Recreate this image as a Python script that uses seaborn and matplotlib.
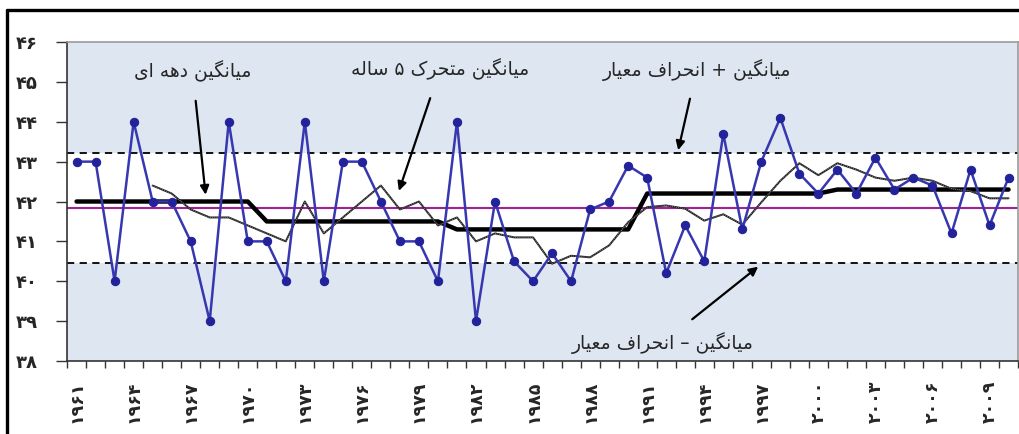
import numpy as np
import pandas as pd
import seaborn as sns
import matplotlib
matplotlib.use("Agg")
import matplotlib.pyplot as plt
from matplotlib.lines import Line2D

# values
years = list(range(1961, 2011))
values = [43, 43, 40, 44, 42, 42, 41, 39, 44, 41,
          41, 40, 44, 40, 43, 43, 42, 41, 41, 40,
          44, 39, 42, 40.5, 40, 40.7, 40, 41.8, 42, 42.9,
          42.6, 40.2, 41.4, 40.5, 43.7, 41.3, 43, 44.1, 42.7, 42.2,
          42.8, 42.2, 43.1, 42.3, 42.6, 42.4, 41.2, 42.8, 41.4, 42.6]
decade_means = [42.0, 41.5, 41.3, 42.2, 42.3]
ma_years = list(range(1965, 2011))
moving_avg = [42.4, 42.2, 41.8, 41.6, 41.6, 41.4,
              41.2, 41.0, 42.0, 41.2, 41.6, 42.0, 42.4, 41.8, 42.0, 41.4,
              41.6, 41.0, 41.2, 41.1, 41.1, 40.44, 40.64, 40.6, 40.9, 41.48,
              41.86, 41.9, 41.82, 41.52, 41.68, 41.42, 41.98, 42.52, 42.96, 42.66,
              42.96, 42.8, 42.6, 42.52, 42.6, 42.52, 42.32, 42.26, 42.08, 42.08]
mean_all = 41.84
upper = 43.22
lower = 40.46
label_years = list(range(1961, 2011, 3))
y_ticks = [38, 39, 40, 41, 42, 43, 44, 45, 46]

lbl_decade = "میانگین دهه ای"
lbl_ma = "میانگین متحرک ۵ ساله"
lbl_up = "میانگین + انحراف معیار"
lbl_down = "میانگین – انحراف معیار"

# contextual forms (isolated, final, initial, medial) -- matplotlib has no arabic shaping
FORMS = {
    'ا': ('\uFE8D', '\uFE8E', None, None),
    'د': ('\uFEA9', '\uFEAA', None, None),
    'ر': ('\uFEAD', '\uFEAE', None, None),
    'و': ('\uFEED', '\uFEEE', None, None),
    'ت': ('\uFE95', '\uFE96', '\uFE97', '\uFE98'),
    'ح': ('\uFEA1', '\uFEA2', '\uFEA3', '\uFEA4'),
    'س': ('\uFEB1', '\uFEB2', '\uFEB3', '\uFEB4'),
    'ع': ('\uFEC9', '\uFECA', '\uFECB', '\uFECC'),
    'ف': ('\uFED1', '\uFED2', '\uFED3', '\uFED4'),
    'ل': ('\uFEDD', '\uFEDE', '\uFEDF', '\uFEE0'),
    'م': ('\uFEE1', '\uFEE2', '\uFEE3', '\uFEE4'),
    'ن': ('\uFEE5', '\uFEE6', '\uFEE7', '\uFEE8'),
    'ه': ('\uFEE9', '\uFEEA', '\uFEEB', '\uFEEC'),
    'ی': ('\uFBFC', '\uFBFD', '\uFBFE', '\uFBFF'),
    'ک': ('\uFB8E', '\uFB8F', '\uFB90', '\uFB91'),
    'گ': ('\uFB92', '\uFB93', '\uFB94', '\uFB95'),
}


def fa(s):
    out = []
    for i, c in enumerate(s):
        if c not in FORMS:
            out.append(c)
            continue
        iso, fin, ini, med = FORMS[c]
        prev = s[i - 1] if i > 0 else ''
        nxt = s[i + 1] if i + 1 < len(s) else ''
        jp = prev in FORMS and FORMS[prev][2] is not None
        jn = ini is not None and nxt in FORMS
        if jp and jn:
            out.append(med)
        elif jp:
            out.append(fin)
        elif jn:
            out.append(ini)
        else:
            out.append(iso)
    return ''.join(reversed(out))


def fa_digits(n):
    return ''.join('۰۱۲۳۴۵۶۷۸۹'[int(d)] for d in str(n))


sns.set_theme(style="white")
plt.rcParams['font.family'] = ['DejaVu Sans']

df = pd.DataFrame({"year": years, "value": values,
                   "decade": np.repeat(decade_means, 10)})
ma = pd.DataFrame({"year": ma_years, "ma": moving_avg})

fig = plt.figure(figsize=(10.19, 4.34), dpi=100)
ax = fig.add_axes([0.0658, 0.1682, 0.9333, 0.735])

ax.axhspan(upper, 46, color="#dde6f1", lw=0, zorder=0)
ax.axhspan(38, lower, color="#dde6f1", lw=0, zorder=0)

ax.axhline(upper, color="black", ls=(0, (4, 3)), lw=1.3, zorder=2)
ax.axhline(lower, color="black", ls=(0, (4, 3)), lw=1.3, zorder=2)
ax.axhline(mean_all, color="#a0209a", lw=1.5, zorder=2)

sns.lineplot(data=df, x="year", y="decade", ax=ax, color="black", lw=3.2, zorder=3)
sns.lineplot(data=ma, x="year", y="ma", ax=ax, color="#222222", lw=1.4, zorder=3)
sns.lineplot(data=ma, x="year", y="ma", ax=ax, color="#bbbbbb", lw=0.5,
             ls=(0, (1, 2)), zorder=3)
sns.lineplot(data=df, x="year", y="value", ax=ax, color="#3737b0", lw=1.8,
             marker="o", markersize=6, markerfacecolor="#22229a",
             markeredgecolor="#22229a", zorder=4)

ax.set_xlim(1960.5, 2010.5)
ax.set_ylim(38, 46)
ax.set_xlabel("")
ax.set_ylabel("")

ax.set_xticks(np.arange(1960.5, 2011, 1))
ax.set_xticklabels([])
ax.set_xticks(label_years, minor=True)
ax.set_xticklabels([fa_digits(y) for y in label_years], minor=True,
                   rotation=90, fontsize=12.5, fontweight="bold")
ax.tick_params(axis="x", which="major", direction="out", length=5, width=1,
               color="#333333", bottom=True)
ax.tick_params(axis="x", which="minor", length=0, pad=14, bottom=True)

ax.set_yticks(y_ticks)
ax.set_yticklabels([fa_digits(v) for v in y_ticks], fontsize=13, fontweight="bold")
ax.tick_params(axis="y", direction="out", length=8, width=1,
               color="#333333", left=True, pad=13)

for s in ["left", "bottom"]:
    ax.spines[s].set_color("#333333")
    ax.spines[s].set_linewidth(1.2)
for s in ["top", "right"]:
    ax.spines[s].set_color("#9a9a9a")
    ax.spines[s].set_linewidth(1.2)

arrow = dict(arrowstyle="-|>", color="black", lw=1.6, mutation_scale=13, shrinkA=11)
ax.annotate(fa(lbl_decade), xy=(1967.8, 42.1), xytext=(1967.1, 45.26),
            ha="center", va="center", fontsize=13.5, arrowprops=arrow)
ax.annotate(fa(lbl_ma), xy=(1977.9, 42.2), xytext=(1980.1, 45.31),
            ha="center", va="center", fontsize=13.5, arrowprops=arrow)
ax.annotate(fa(lbl_up), xy=(1992.6, 43.22), xytext=(1993.6, 45.31),
            ha="center", va="center", fontsize=13.5, arrowprops=arrow)
ax.annotate(fa(lbl_down), xy=(1996.95, 40.41), xytext=(1991.8, 38.45),
            ha="center", va="center", fontsize=13.5, arrowprops=arrow)

# frame of the original picture
fig.add_artist(Line2D([0.007, 1.0], [0.977, 0.977], transform=fig.transFigure,
                      color="black", lw=2.4))
fig.add_artist(Line2D([0.007, 0.007], [0.0, 0.977], transform=fig.transFigure,
                      color="black", lw=2.4))

fig.savefig("out.png", dpi=100)
